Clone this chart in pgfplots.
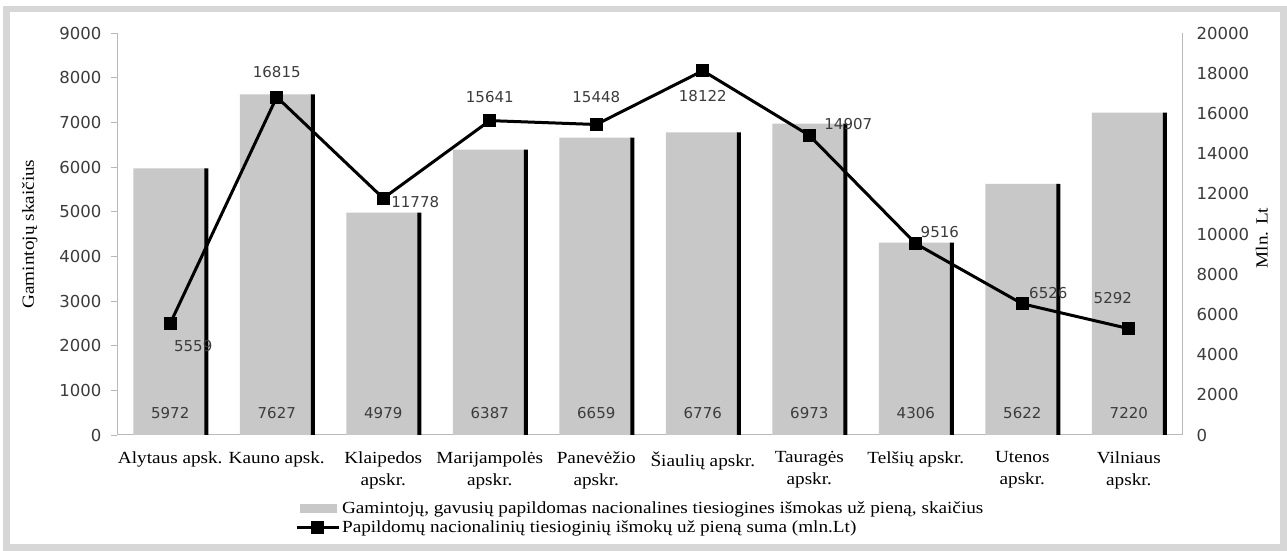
\documentclass[border=0pt]{standalone}
\usepackage{fontspec}
\setmainfont{Liberation Serif}[FakeStretch=1.13]
\newfontfamily\numfont{DejaVu Sans}
\usepackage{pgfplots}
\usepackage{pgfplotstable}
\pgfplotsset{compat=1.18}

\definecolor{barfill}{RGB}{200,200,200}
\definecolor{axisgray}{RGB}{185,185,185}
\definecolor{framegray}{RGB}{215,215,215}
\definecolor{numgray}{RGB}{60,60,60}

% x, bars (left axis), line (right axis), label offsets of the line values
\pgfplotstableread{
x bars line dx dy
0 5972 5559 23 -23
1 7627 16815 0 25
2 4979 11778 32 -4
3 6387 15641 0 24
4 6659 15448 0 27
5 6776 18122 0 -25
6 6973 14907 39 11
7 4306 9516 24 12
8 5622 6526 26 11
9 7220 5292 -16 31
}\datatable

\begin{document}
\begin{tikzpicture}[x=1pt,y=1pt]
\useasboundingbox (0,0) rectangle (1287,551);
\fill[white] (0,0) rectangle (1287,551);
\draw[framegray, line width=6.5pt] (6.5,3.5) rectangle (1283.5,542);

\pgfplotsset{
  common/.style={
    at={(117pt,116pt)}, anchor=south west,
    width=1065pt, height=402pt, scale only axis,
    xmin=-0.5, xmax=9.5,
    clip=false,
    scaled y ticks=false,
    /pgf/number format/assume math mode=true,
    /pgf/number format/1000 sep={},
    axis line style={axisgray, line width=1pt},
    yticklabel style={font=\numfont\fontsize{16.5}{19}\selectfont, text=numgray},
  }
}

\begin{axis}[
  common,
  ymin=0, ymax=9000,
  axis x line*=bottom, axis y line*=left,
  ytick={0,1000,...,9000},
  yticklabel style={xshift=-6pt},
  xtick={0,...,9},
  xticklabels={Alytaus apsk., Kauno apsk., Klaipedos\\apskr., Marijampolės\\apskr.,
    Panevėžio\\apskr., Šiaulių apskr., Tauragės\\apskr., Telšių apskr.,
    Utenos\\apskr., Vilniaus\\apskr.},
  xticklabel style={font=\fontsize{17}{22}\selectfont, align=center, yshift=-7pt},
  x tick style={draw=none},
  y tick style={axisgray, line width=0.8pt},
  tick align=outside, major tick length=6pt,
  ylabel={Gamintojų skaičius},
  ylabel style={at={(axis description cs:-0.082,0.5)}, anchor=center,
    font=\fontsize{17}{20}\selectfont},
]
\addplot[ybar, bar width=72pt, bar shift=-1pt, fill=barfill, draw=none]
  table[x=x, y=bars]\datatable;
\addplot[ybar, bar width=4pt, bar shift=36pt, fill=black, draw=none]
  table[x=x, y=bars]\datatable;
\addplot[draw=none, mark=none, nodes near coords, point meta=explicit,
  every node near coord/.append style={anchor=center,
    font=\numfont\fontsize{15}{18}\selectfont, text=numgray}]
  table[x=x, y expr=500, meta=bars]\datatable;
\end{axis}

\begin{axis}[
  common,
  ymin=0, ymax=20000,
  axis x line=none, axis y line*=right,
  ytick={0,2000,...,20000},
  y tick style={draw=none},
  yticklabel style={anchor=west, xshift=11pt},
  ylabel={Mln. Lt},
  ylabel style={at={(axis description cs:1.075,0.49)}, anchor=center,
    font=\fontsize{17}{20}\selectfont},
  legend style={at={(0.167,-0.16)}, anchor=north west, draw=none, fill=none,
    font=\fontsize{17}{20}\selectfont, inner sep=0pt, row sep=2pt},
  legend cell align=left,
]
\addlegendimage{legend image code/.code={\fill[barfill] (0pt,-4pt) rectangle (36pt,4pt);}}
\addlegendentry{Gamintojų, gavusių papildomas nacionalines tiesiogines išmokas už pieną, skaičius}
\addplot[black, line width=3pt, mark=square*, mark size=5pt,
  nodes near coords, point meta=explicit,
  visualization depends on={\thisrow{dx}\as\dx},
  visualization depends on={\thisrow{dy}\as\dy},
  every node near coord/.append style={anchor=center, xshift=\dx pt, yshift=\dy pt,
    font=\numfont\fontsize{15}{18}\selectfont, text=numgray},
  legend image code/.code={\draw[black, line width=3pt] (-4pt,0pt) -- (38pt,0pt);
    \fill[black] (12pt,-5pt) rectangle (22pt,5pt);}]
  table[x=x, y=line, meta=line]\datatable;
\addlegendentry{Papildomų nacionalinių tiesioginių išmokų už pieną suma (mln.Lt)}
\end{axis}
\end{tikzpicture}
\end{document}
